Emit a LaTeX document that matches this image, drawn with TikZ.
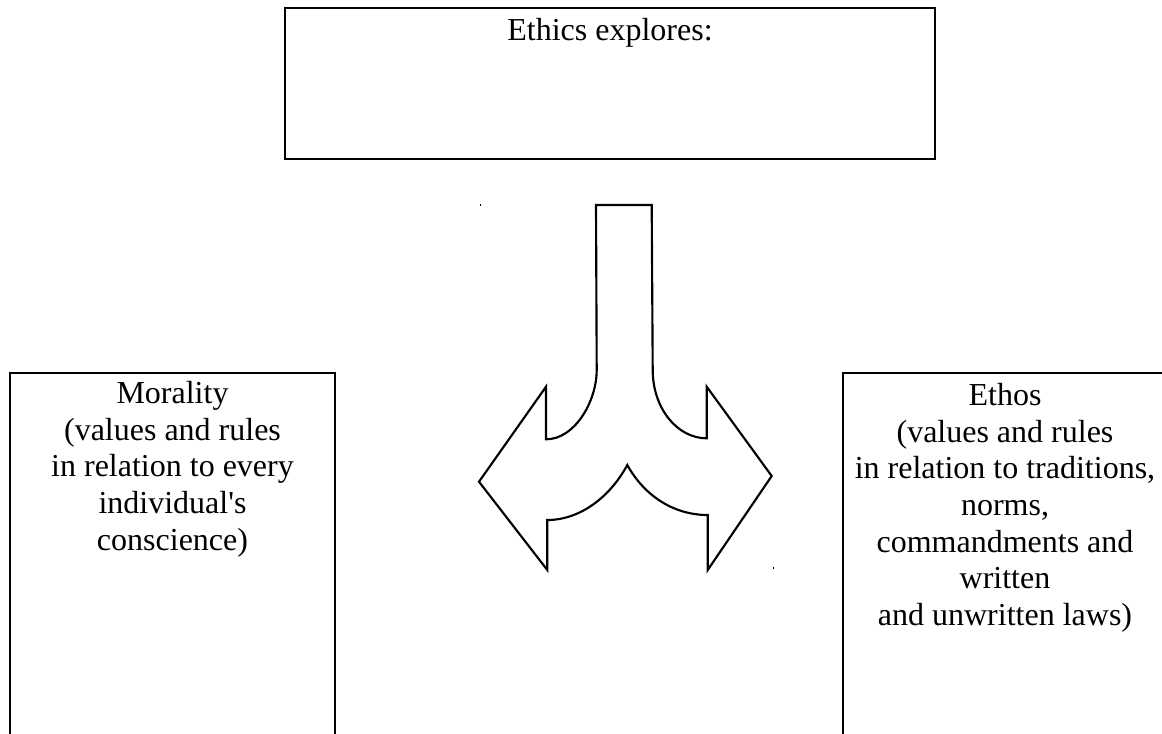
\documentclass[tikz,border=0pt]{standalone}
\usepackage{fontspec}
\setmainfont{Liberation Serif}
\begin{document}
\begin{tikzpicture}[x=0.75pt,y=-0.75pt,
  boxline/.style={draw=black,line width=1.7pt},
  arrowline/.style={draw=black,line width=1.6pt,line join=miter},
  label/.style={inner sep=0pt,align=center,anchor=north,
    font=\fontsize{24}{27.5}\selectfont}]
\useasboundingbox (0,0) rectangle (1162,733);
\begin{scope}
\clip (0,0) rectangle (1162,733);
% boxes
\draw[boxline] (285,8) rectangle (935,159);
\draw[boxline] (10,373) rectangle (335,745);
\draw[boxline] (843,373) rectangle (1168,745);
\end{scope}
% texts (north = first baseline minus ascender height)
\node[label] (top) at (610,18) {Ethics explores:};
\node[label] (morality) at (172.5,381) {Morality\\(values and rules\\in relation to every\\individual\textquotesingle s\\conscience)};
\node[label] (ethos) at (1005,383) {Ethos\\(values and rules\\in relation to traditions,\\norms,\\commandments and\\written\\and unwritten laws)};
% split arrow
\draw[arrowline] (596,205) -- (651.7,205) -- (652.7,370)
  .. controls (652.7,408) and (677,438.3) .. (706.7,438.3)
  -- (706.7,386.7) -- (771.7,476) -- (707.7,570) -- (707.7,515)
  .. controls (675,515) and (645,497) .. (627.3,465)
  .. controls (610,497) and (580,520) .. (547.3,520)
  -- (547.3,570) -- (479,481.7) -- (546,386.7) -- (546,439.3)
  .. controls (575,439.3) and (596.7,401) .. (596.7,370) -- cycle;
\fill[black] (480,204) rectangle (481,206);
\fill[black] (773,567) rectangle (774,569);
\end{tikzpicture}
\end{document}
